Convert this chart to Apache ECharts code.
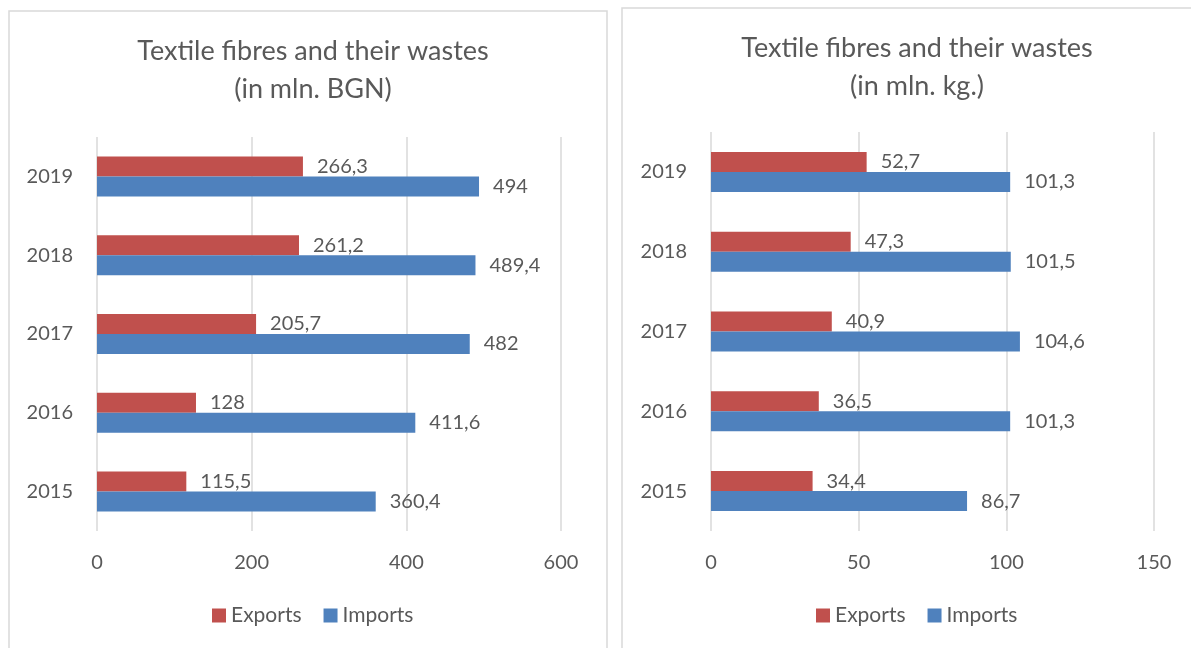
<!DOCTYPE html>
<html><head><meta charset="utf-8">
<script src="https://cdn.jsdelivr.net/npm/echarts@6/dist/echarts.min.js"></script>
<style>html,body{margin:0;padding:0;background:#fff;}#c{width:1191px;height:648px;}</style>
</head><body><div id="c"></div>
<script>
const years = ['2015','2016','2017','2018','2019'];
const bgnExports = [115.5, 128, 205.7, 261.2, 266.3];
const bgnImports = [360.4, 411.6, 482, 489.4, 494];
const kgExports = [34.4, 36.5, 40.9, 47.3, 52.7];
const kgImports = [86.7, 101.3, 104.6, 101.5, 101.3];
const bgnTicks = {min: 0, max: 600, interval: 200};
const kgTicks = {min: 0, max: 150, interval: 50};

const FONT = 'Lato';
const TXT = '#595959';
const RED = '#C0504D', BLUE = '#4F81BD';
const fmt = p => String(p.value).replace('.', ',');

function xAx(idx, t) {
  return {gridIndex: idx, type: 'value', min: t.min, max: t.max, interval: t.interval,
    axisLine: {show: false}, axisTick: {show: false},
    axisLabel: {color: TXT, fontFamily: FONT, fontSize: 20, margin: 22},
    splitLine: {lineStyle: {color: '#d9d9d9', width: 1.5}}};
}
function yAx(idx) {
  return {gridIndex: idx, type: 'category', data: years,
    axisLine: {show: false}, axisTick: {show: false},
    axisLabel: {color: TXT, fontFamily: FONT, fontSize: 20, margin: 24}};
}
function bar(name, data, idx, color) {
  return {name, type: 'bar', xAxisIndex: idx, yAxisIndex: idx, data,
    barWidth: 20, barGap: '0%',
    itemStyle: {color},
    label: {show: true, position: 'right', distance: 14, color: TXT, fontFamily: FONT, fontSize: 20, formatter: fmt}};
}

const chart = echarts.init(document.getElementById('c'));
chart.setOption({
  animation: false,
  graphic: [
    {type: 'rect', shape: {x: 9, y: 11, width: 598, height: 660}, style: {fill: 'none', stroke: '#d9d9d9', lineWidth: 1.5}},
    {type: 'rect', shape: {x: 622, y: 8, width: 600, height: 660}, style: {fill: 'none', stroke: '#d9d9d9', lineWidth: 1.5}}
  ],
  title: [
    {text: 'Textile fibres and their wastes\n(in mln. BGN)', left: 308, top: 27, textAlign: 'center',
      textStyle: {color: TXT, fontFamily: FONT, fontSize: 27, fontWeight: 'normal', lineHeight: 38}},
    {text: 'Textile fibres and their wastes\n(in mln. kg.)', left: 912, top: 24, textAlign: 'center',
      textStyle: {color: TXT, fontFamily: FONT, fontSize: 27, fontWeight: 'normal', lineHeight: 38}}
  ],
  legend: [
    {left: 207, top: 600, itemWidth: 14, itemHeight: 14, itemGap: 22, icon: 'rect',
      data: ['Exports', 'Imports'], textStyle: {color: TXT, fontFamily: FONT, fontSize: 21}},
    {left: 811, top: 600, itemWidth: 14, itemHeight: 14, itemGap: 22, icon: 'rect',
      data: ['Exports', 'Imports'], textStyle: {color: TXT, fontFamily: FONT, fontSize: 21}}
  ],
  grid: [
    {left: 97, width: 464, top: 137, height: 394},
    {left: 711, width: 443, top: 132, height: 399}
  ],
  xAxis: [xAx(0, bgnTicks), xAx(1, kgTicks)],
  yAxis: [yAx(0), yAx(1)],
  series: [
    bar('Exports', bgnExports, 0, RED),
    bar('Imports', bgnImports, 0, BLUE),
    bar('Exports', kgExports, 1, RED),
    bar('Imports', kgImports, 1, BLUE)
  ]
});
</script></body></html>
